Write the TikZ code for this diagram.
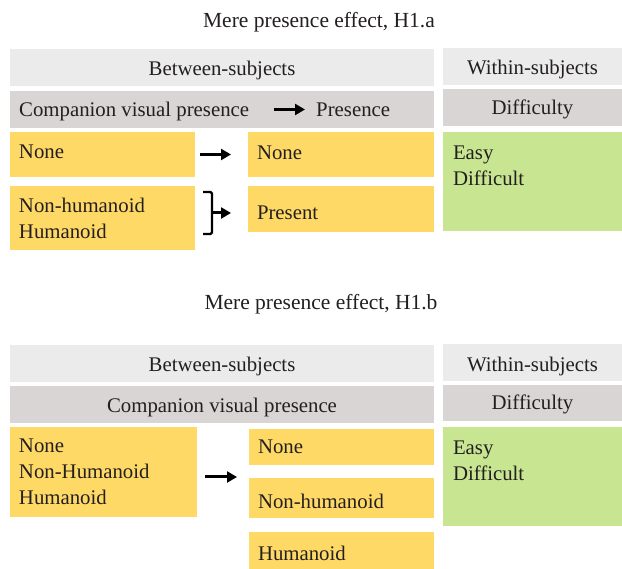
\documentclass[tikz,border=0pt]{standalone}
\usepackage{fontspec}
\setmainfont{Liberation Serif}
\usetikzlibrary{arrows.meta}

\definecolor{lightbar}{RGB}{235,235,235}
\definecolor{darkbar}{RGB}{217,213,213}
\definecolor{boxyellow}{RGB}{255,217,102}
\definecolor{boxgreen}{RGB}{200,230,145}
\definecolor{inktext}{RGB}{35,31,32}

\begin{document}
\begin{tikzpicture}
		[x=1pt,y=-1pt,
		every node/.style={font=\fontsize{20.8}{26}\selectfont,text=inktext},
		box/.style= {anchor=north west,inner sep=0pt,outer sep=0pt},
		lightrow/.style= {box,fill=lightbar,minimum height=37pt,text height=17pt,text depth=0pt},
		darkrow/.style= {box,fill=darkbar,minimum height=37pt,text height=16pt,text depth=0pt},
		level/.style= {box,fill=boxyellow,align=left,inner xsep=9pt},
		sink/.style= {text height=#1,text depth=0pt},
		withinbox/.style= {box,fill=boxgreen,minimum width=179pt,minimum height=99pt},
		word/.style= {inner sep=0pt,text height=15pt,text depth=0pt},
		title/.style= {font=\fontsize{21.5}{26}\selectfont},
		thickarrow/.style={-{Triangle[length=10pt,width=11pt]},line width=3pt,black},
		bracket/.style={line width=2.4pt,black,rounded corners=1.5pt}]

		\useasboundingbox (0,0) rectangle (622,569);

		% H1.a
		\node[title] (title1) at (319,22.5) {Mere presence effect, H1.a};

		\node[lightrow,minimum width=424pt] (between1) at (10,49) {Between-subjects};
		\node[darkrow,minimum width=424pt] (companion1) at (10,91) {};
		\node[word,anchor=west] (cvptext1) at (19,109.5) {Companion visual presence};
		\node[word,anchor=west] (prestext1) at (316,109.5) {Presence};

		\node[lightrow,minimum width=179pt] (within1) at (443,48) {Within-subjects};
		\node[darkrow,minimum width=179pt,text height=15pt] (difficulty1) at (443,89) {Difficulty};
		\node[withinbox] (easy1) at (443,132) {};
		\node[box,align=left] (easytext1) at (453,146) {Easy\\Difficult};

		\node[level,sink=8pt,minimum height=45pt,text width=167pt] (noneL1) at (10,132) {None};
		\node[level,minimum height=64pt,text width=167pt] (humanL1) at (10,186) {Non-humanoid\\Humanoid};
		\node[level,sink=11pt,minimum height=45pt,text width=168pt] (noneR1) at (248,132) {None};
		\node[level,sink=21pt,minimum height=46pt,text width=168pt] (presentR1) at (248,186) {Present};

		\coordinate (join1) at (212,213);

		\draw[thickarrow,shorten <=25pt,shorten >=11pt] (cvptext1.east) -- (prestext1.west);
		\draw[thickarrow,shorten <=5pt,shorten >=17pt] (noneL1.east) -- (noneR1.west);
		\draw[bracket] ([shift={(-9,-21)}]join1) -| ([shift={(0,21)}]join1) -- ++(-9,0);
		\draw[thickarrow,shorten >=17pt] (join1) -- (presentR1.west |- join1);

		% H1.b
		\node[title] (title2) at (321,304.5) {Mere presence effect, H1.b};

		\node[lightrow,minimum width=424pt] (between2) at (10,345) {Between-subjects};
		\node[darkrow,minimum width=424pt] (companion2) at (10,386) {Companion visual presence};

		\node[lightrow,minimum width=179pt,text height=18pt] (within2) at (443,344) {Within-subjects};
		\node[darkrow,minimum width=179pt,minimum height=36pt,text height=13pt] (difficulty2) at (443,385) {Difficulty};
		\node[withinbox] (easy2) at (443,427) {};
		\node[box,align=left] (easytext2) at (453,441) {Easy\\Difficult};

		\node[level,minimum height=90pt,text width=169pt] (allL2) at (10,427) {None\\Non-Humanoid\\Humanoid};
		\node[level,sink=13pt,minimum height=36pt,text width=167pt] (noneR2) at (249,429) {None};
		\node[level,sink=21pt,minimum height=40pt,text width=167pt] (nonhumR2) at (249,478) {Non-humanoid};
		\node[level,sink=20pt,minimum height=37pt,text width=167pt] (humR2) at (249,532) {Humanoid};

		\draw[thickarrow,shorten <=8pt,shorten >=12pt] ([yshift=-5pt]allL2.east) -- ([yshift=-5pt]allL2.east -| noneR2.west);

	\end{tikzpicture}
\end{document}
